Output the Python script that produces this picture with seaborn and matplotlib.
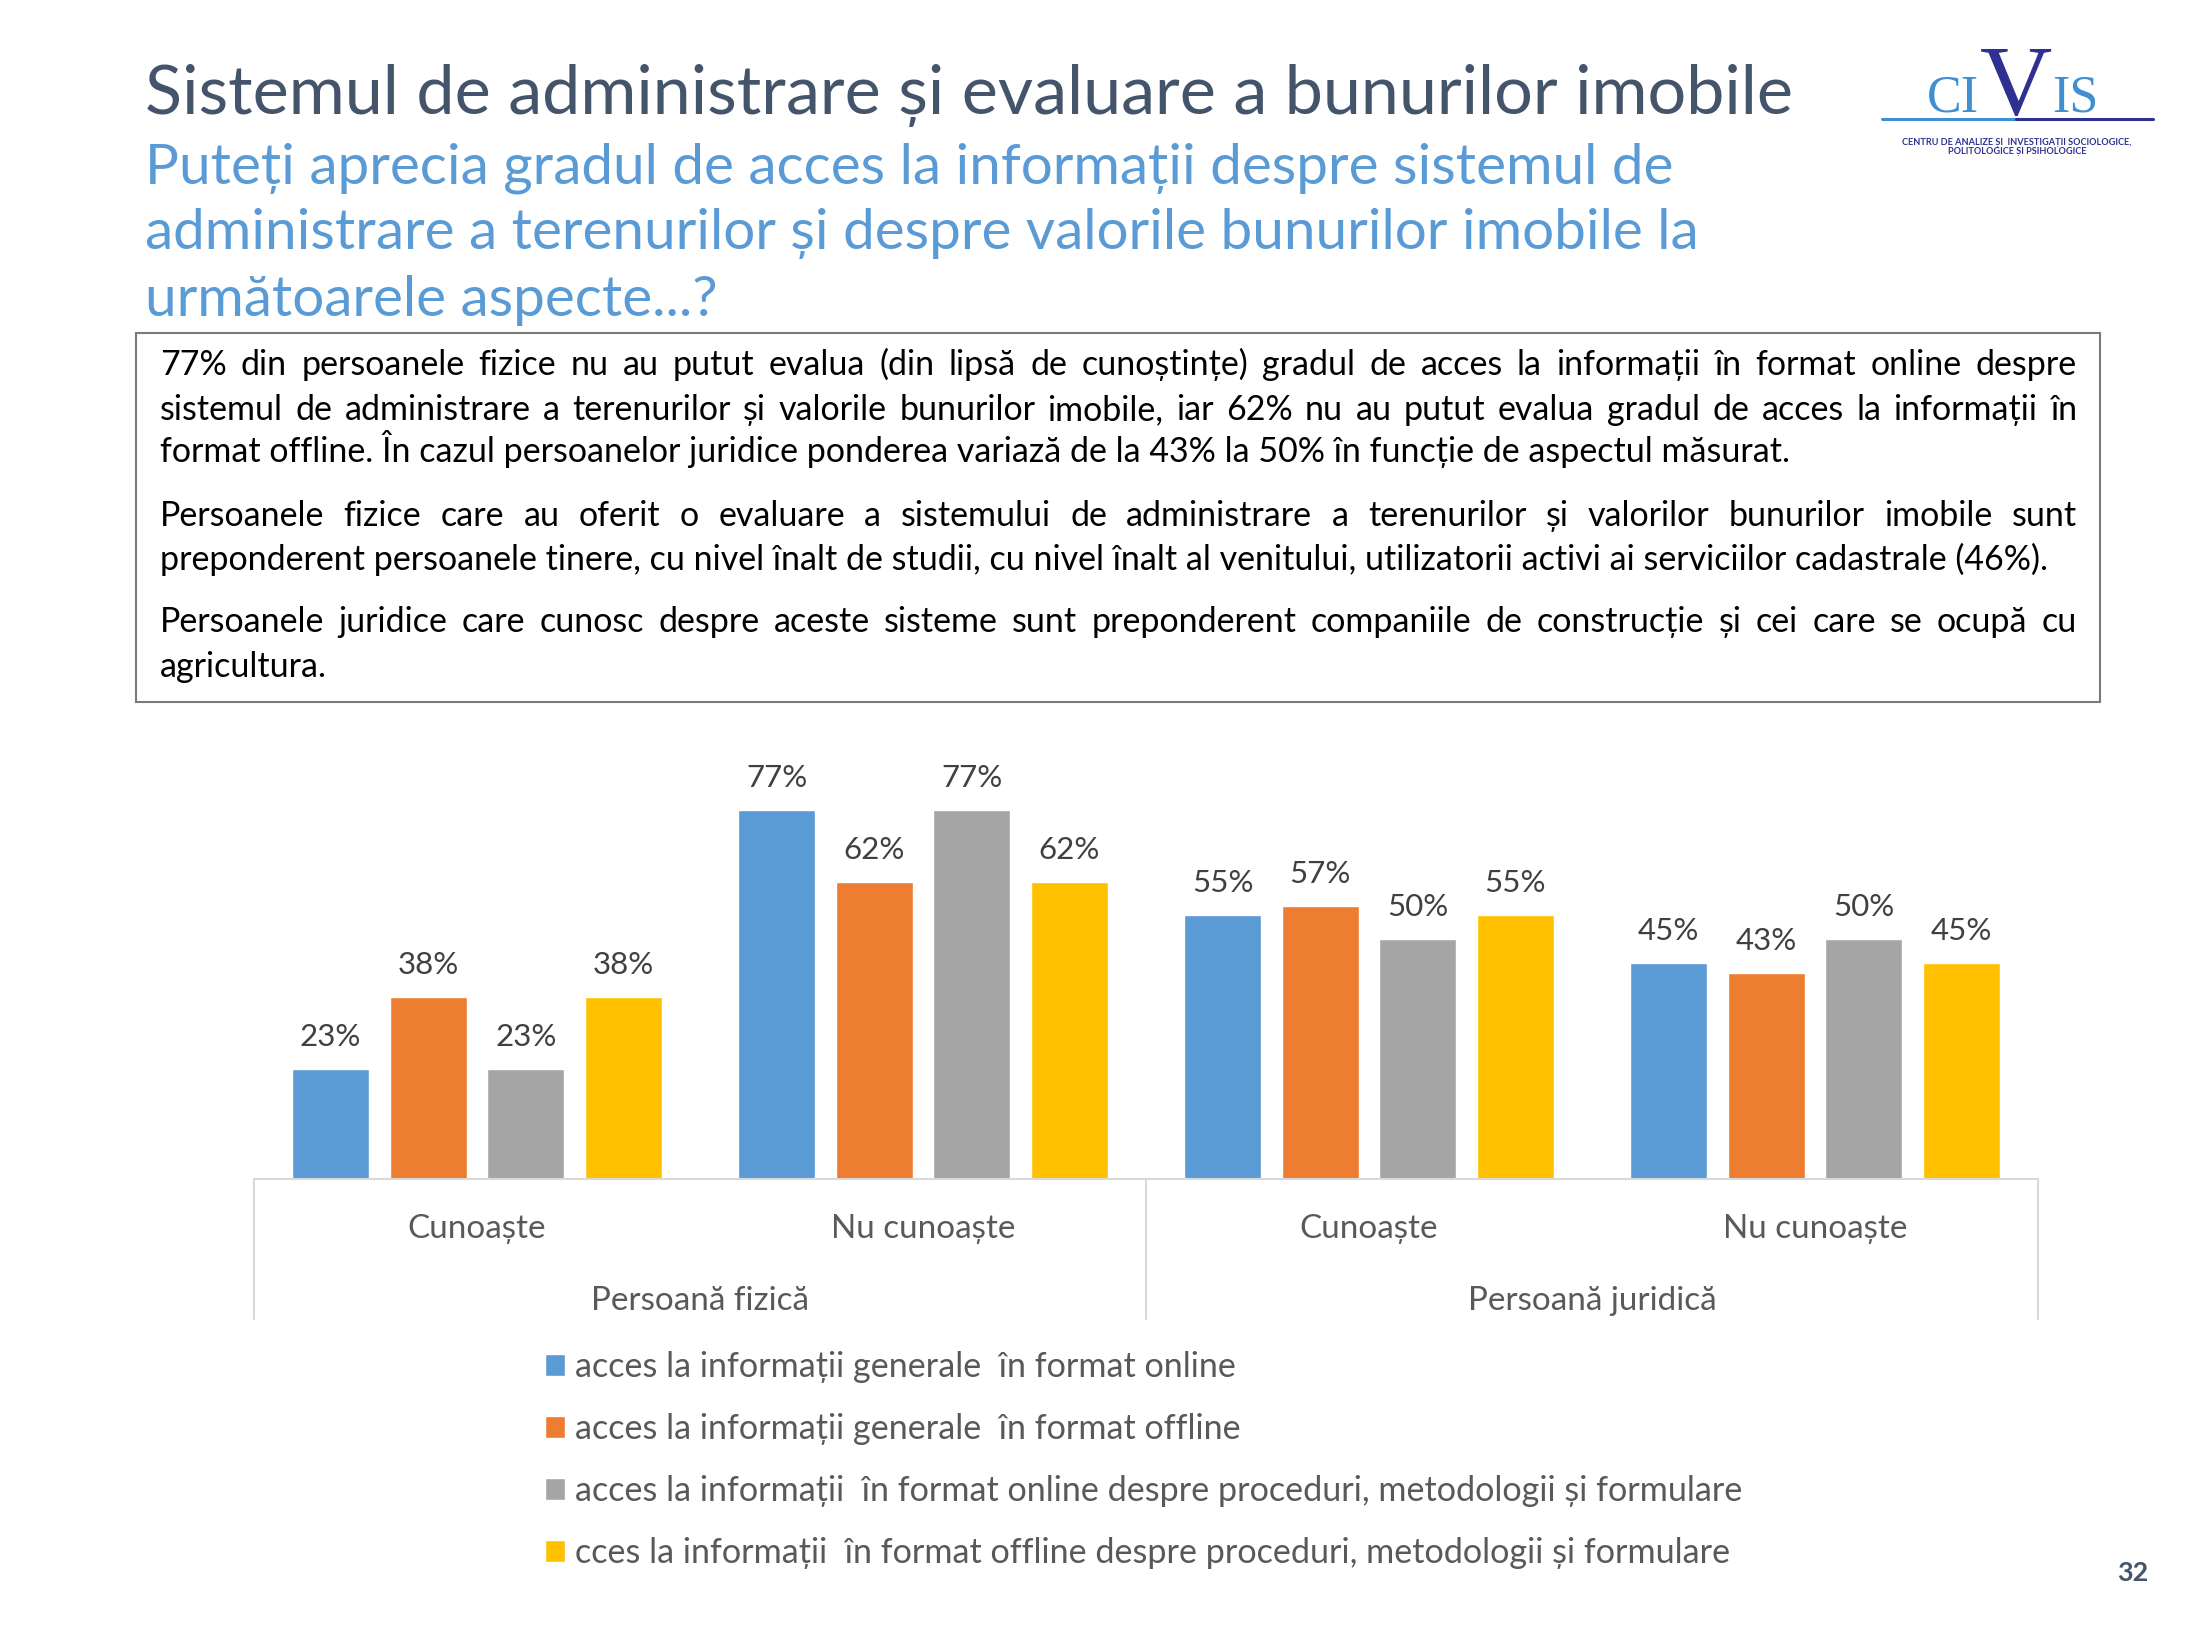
import matplotlib
matplotlib.use("Agg")
import pandas as pd
import matplotlib.pyplot as plt
import matplotlib.transforms as mtransforms
from matplotlib.patches import Rectangle
from matplotlib.lines import Line2D
import seaborn as sns

# Date
grupuri = ["Persoană fizică", "Persoană juridică"]
subcategorii = ["Cunoaște", "Nu cunoaște"]
serii = [
    "acces la informații generale  în format online",
    "acces la informații generale  în format offline",
    "acces la informații  în format online despre proceduri, metodologii și formulare",
    "cces la informații  în format offline despre proceduri, metodologii și formulare",
]
online_general = [23, 77, 55, 45]
offline_general = [38, 62, 57, 43]
online_proceduri = [23, 77, 50, 50]
offline_proceduri = [38, 62, 55, 45]
culori = ["#5B9BD5", "#ED7D31", "#A5A5A5", "#FFC000"]

titlu = "Sistemul de administrare și evaluare a bunurilor imobile"
subtitlu = [
    "Puteți aprecia gradul de acces la informații despre sistemul de",
    "administrare a terenurilor și despre valorile bunurilor imobile la",
    "următoarele aspecte...?",
]
paragrafe = [
    ["77% din persoanele fizice nu au putut evalua (din lipsă de cunoștințe) gradul de acces la informații în format online despre",
     "sistemul de administrare a terenurilor și valorile bunurilor imobile, iar 62% nu au putut evalua gradul de acces la informații în",
     "format offline. În cazul persoanelor juridice ponderea variază de la 43% la 50% în funcție de aspectul măsurat."],
    ["Persoanele fizice care au oferit o evaluare a sistemului de administrare a terenurilor și valorilor bunurilor imobile sunt",
     "preponderent persoanele tinere, cu nivel înalt de studii, cu nivel înalt al venitului, utilizatorii activi ai serviciilor cadastrale (46%)."],
    ["Persoanele juridice care cunosc despre aceste sisteme sunt preponderent companiile de construcție și cei care se ocupă cu",
     "agricultura."],
]

categorii = [f"{g}|{s}" for g in grupuri for s in subcategorii]
rows = []
for serie, vals in zip(serii, [online_general, offline_general, online_proceduri, offline_proceduri]):
    for cat, v in zip(categorii, vals):
        rows.append({"categorie": cat, "serie": serie, "procent": v})
df = pd.DataFrame(rows)

sns.set_style("white")
FONT = ["Lato", "DejaVu Sans"]
plt.rcParams["font.family"] = FONT

W, H = 2201, 1651
fig = plt.figure(figsize=(W / 100, H / 100), dpi=100)
renderer = fig.canvas.get_renderer()


def px(x, y):
    return x / W, 1 - y / H


def latime(s, size, **kw):
    t = fig.text(0, 0, s, fontsize=size, **kw)
    w = t.get_window_extent(renderer).width
    t.remove()
    return w


def inaltime(s, size, **kw):
    t = fig.text(0, 0, s, fontsize=size, **kw)
    h = t.get_window_extent(renderer).height
    t.remove()
    return h


def potrivire(s, target, **kw):
    return 20 * target / latime(s, 20, **kw)


# Titlu si subtitlu
fs_t = potrivire(titlu, 1655)
fig.text(*px(145, 114), titlu, fontsize=fs_t, color="#44546A", va="baseline")
fs_s = potrivire(subtitlu[0], 1534)
for linie, y in zip(subtitlu, [183, 249, 316]):
    fig.text(*px(145, y), linie, fontsize=fs_s, color="#5B9BD5", va="baseline")

# Caseta de text
fig.add_artist(Rectangle(px(136, 702), (2100 - 136) / W, (702 - 333) / H,
                         transform=fig.transFigure, fill=False,
                         edgecolor="#7A7A7A", lw=1.5))
x0, x1 = 160, 2077
fs_b = potrivire(paragrafe[1][1], 1895)
for p in paragrafe:
    for linie in p[:-1]:
        fs_b = min(fs_b, potrivire(linie, (x1 - x0) * 0.97))
baze = [[375, 420, 462], [526, 570], [632, 677]]
for p, ys in zip(paragrafe, baze):
    for i, (linie, y) in enumerate(zip(p, ys)):
        if i == len(p) - 1:
            fig.text(*px(x0, y), linie, fontsize=fs_b, color="black", va="baseline")
            continue
        cuvinte = linie.split(" ")
        lat = [latime(c, fs_b) for c in cuvinte]
        spatiu = ((x1 - x0) - sum(lat)) / (len(cuvinte) - 1)
        x = x0
        for c, w in zip(cuvinte, lat):
            fig.text(*px(x, y), c, fontsize=fs_b, color="black", va="baseline")
            x += w + spatiu

# Grafic
ax_top, ax_bot = 740, 1179
ax = fig.add_axes([254 / W, 1 - ax_bot / H, (2038 - 254) / W, (ax_bot - ax_top) / H])
sns.barplot(data=df, x="categorie", y="procent", hue="serie", hue_order=serii,
            order=categorii, palette=culori, width=0.875, gap=0.21,
            saturation=1, errorbar=None, ax=ax)
pct_px = 4.795
ax.set_ylim(0, (ax_bot - ax_top) / pct_px)
ax.set_xlim(-0.5, 3.5)
for s in ["left", "right", "top"]:
    ax.spines[s].set_visible(False)
ax.spines["bottom"].set_color("#D9D9D9")
ax.spines["bottom"].set_linewidth(1.5)
ax.set_yticks([])
ax.set_xlabel("")
ax.set_ylabel("")

gri = "#595959"
fs_cat = potrivire("Cunoaște", 139)
ax.set_xticks(range(4))
ax.set_xticklabels(subcategorii * 2, fontsize=fs_cat, color=gri, va="baseline")
ax.tick_params(axis="x", length=0, pad=(1238 - ax_bot) * 0.72)

trans = mtransforms.blended_transform_factory(ax.transData, ax.transAxes)
ax_h = ax_bot - ax_top
for xg, g in zip([0.5, 2.5], grupuri):
    ax.text(xg, -(1310 - ax_bot) / ax_h, g, transform=trans, ha="center",
            va="baseline", fontsize=fs_cat, color=gri)
for xs in [-0.5, 1.5, 3.5]:
    ax.add_line(Line2D([xs, xs], [0, -(1319 - ax_bot) / ax_h], transform=trans,
                       color="#D9D9D9", lw=1.5, clip_on=False))

fs_val = potrivire("23%", 61)
for c in ax.containers:
    txt = ax.bar_label(c, labels=[f"{v:.0f}%" for v in c.datavalues],
                       padding=23 * 0.72, fontsize=fs_val, color="#404040")
    for t in txt:
        t.set_va("baseline")

# Legenda
handles, labels = ax.get_legend_handles_labels()
if ax.get_legend() is not None:
    ax.get_legend().remove()
fs_leg = potrivire(serii[2], 1171)
fs_leg_px = fs_leg * 100 / 72
h_t = inaltime(serii[2], fs_leg)
fig.legend(handles, labels, loc="upper left", bbox_to_anchor=px(545, 1367 - h_t / 2),
           frameon=False, fontsize=fs_leg, labelcolor=gri,
           handlelength=20 / fs_leg_px, handleheight=20 / fs_leg_px,
           handletextpad=10 / fs_leg_px, labelspacing=(62 - h_t) / fs_leg_px,
           borderpad=0, borderaxespad=0)

# Logo
albastru, bleumarin = "#3F8FD2", "#2E3192"
serif = ["Liberation Serif", "DejaVu Serif"]
fs_ci = potrivire("CI", 52, family=serif)
fig.text(*px(1979, 112), "CI", fontsize=fs_ci, family=serif, color=albastru,
         ha="right", va="baseline")
fig.text(*px(2052, 112), "IS", fontsize=fs_ci, family=serif, color=albastru,
         ha="left", va="baseline")
fs_v = potrivire("V", 72, family=serif)
fig.text(*px(2016, 114), "V", fontsize=fs_v, family=serif, color=bleumarin,
         ha="center", va="baseline")
fig.add_artist(Line2D([1882 / W, 2016 / W], [1 - 119 / H] * 2, transform=fig.transFigure,
                      color=albastru, lw=2.2))
fig.add_artist(Line2D([2016 / W, 2153 / W], [1 - 119 / H] * 2, transform=fig.transFigure,
                      color=bleumarin, lw=2.2))
r1 = "CENTRU DE ANALIZE ȘI  INVESTIGAȚII SOCIOLOGICE,"
fs_l = potrivire(r1, 230, fontweight="bold")
fig.text(*px(2017, 138), r1 + "\nPOLITOLOGICE ȘI PSIHOLOGICE", fontsize=fs_l,
         fontweight="bold", color=bleumarin, ha="center", va="top",
         multialignment="center", linespacing=1.05)

# Numar pagina
fs_n = potrivire("32", 31, fontweight="bold")
fig.text(*px(2133, 1573), "32", fontsize=fs_n, fontweight="bold", color="#44546A",
         ha="center", va="center")

fig.savefig("out.png", dpi=100)
